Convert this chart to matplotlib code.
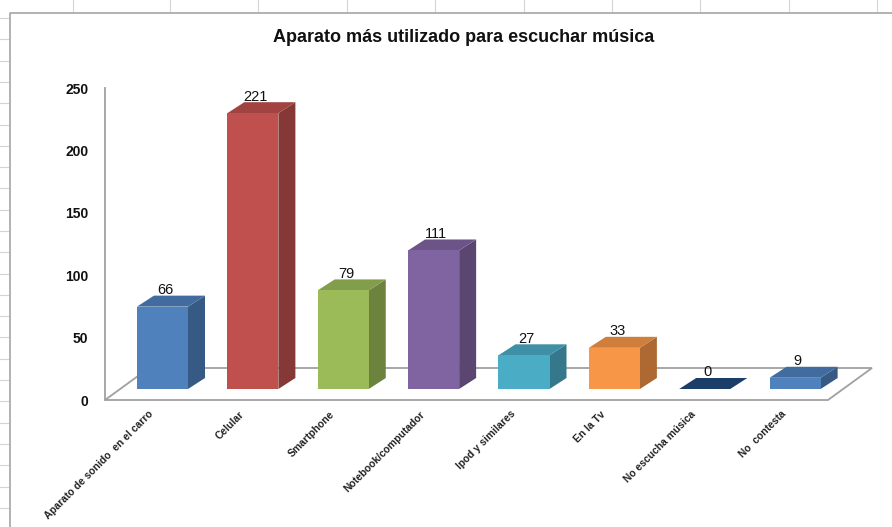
import matplotlib
matplotlib.use("Agg")
import matplotlib.pyplot as plt
import matplotlib.transforms as mtransforms
from matplotlib.patches import Polygon, Rectangle
from matplotlib.lines import Line2D
import numpy as np

plt.rcParams['font.family'] = ['Liberation Sans', 'DejaVu Sans']

# ---- data ----
categories = ["Aparato de sonido  en el carro", "Celular", "Smartphone",
              "Notebook/computador", "Ipod y similares", "En la Tv",
              "No escucha música", "No  contesta"]
values = [66, 221, 79, 111, 27, 33, 0, 9]
colors = ["#4F81BD", "#C0504D", "#9BBB59", "#8064A2", "#4BACC6",
          "#F79646", "#1F497D", "#4F81BD"]
yticks = [0, 50, 100, 150, 200, 250]
title = "Aparato más utilizado para escuchar música"

W, H, DPI = 892, 527, 100
fig = plt.figure(figsize=(W / DPI, H / DPI), dpi=DPI)
fig.patch.set_facecolor("white")
FT = fig.transFigure

# spreadsheet grid peeking around the chart frame
for xc in [73, 170, 258, 347, 435, 524, 612, 700, 789, 877]:
    fig.add_artist(Line2D([xc / W, xc / W], [1, 1 - 12 / H],
                          color="#d4d4d4", lw=0.8, transform=FT))
for yr in np.arange(18, 527, 21.3):
    fig.add_artist(Line2D([0, 9 / W], [1 - yr / H, 1 - yr / H],
                          color="#d4d4d4", lw=0.8, transform=FT))
# chart frame
fig.add_artist(Line2D([10 / W, 10 / W, 1], [0, 1 - 13 / H, 1 - 13 / H],
                      color="#a6a6a6", lw=1.2, transform=FT))

# axes = front plane of the floor
x_left, x_right = 105, 828
y_zero, y_top = 400, 88
ax = fig.add_axes([x_left / W, (H - y_zero) / H,
                   (x_right - x_left) / W, (y_zero - y_top) / H])
ax.set_xlim(-0.47, len(values) - 1 + 0.53)
ax.set_ylim(0, 250)
ax.patch.set_alpha(0)
for s in ["top", "right", "bottom"]:
    ax.spines[s].set_visible(False)
ax.spines["left"].set_color("#a0a0a0")
ax.spines["left"].set_linewidth(1.3)
ax.spines["left"].set_zorder(0.5)

DISP = mtransforms.IdentityTransform()

def px(dx, dy):
    """pixel offset as a display-space translation"""
    return mtransforms.ScaledTranslation(dx / DPI, dy / DPI, fig.dpi_scale_trans)

# floor: front edge on the axis, back edge pushed into depth
fdx, fdy = 44, 32
x0, x1 = ax.get_xlim()
fl = ax.transData.transform((x0, 0))
fr = ax.transData.transform((x1, 0))
off_f = np.array([fdx, fdy])
ax.add_patch(Polygon([fl, fr, fr + off_f, fl + off_f], closed=True,
                     transform=DISP, facecolor="white", edgecolor="#a0a0a0",
                     lw=1.3, zorder=1, clip_on=False))

# bars: front face + top + side, set into the floor
bdx, bdy = 15, 11     # bar front plane offset from floor front
ddx, ddy = 17, 11     # bar depth
bw = 0.565

def shade(c, f):
    r, g, b = matplotlib.colors.to_rgb(c)
    return (r * f, g * f, b * f)

bar_tr = ax.transData + px(bdx, bdy)
off_b = np.array([ddx, ddy])
for i, (v, c) in enumerate(zip(values, colors)):
    xl, xr = i - bw / 2, i + bw / 2
    fr_b = bar_tr.transform((xr, 0))
    fr_t = bar_tr.transform((xr, v))
    fl_t = bar_tr.transform((xl, v))
    side_pts = [fr_b, fr_t, fr_t + off_b, fr_b + off_b]
    top_pts = [fl_t, fr_t, fr_t + off_b, fl_t + off_b]
    for pts, col, z in [(side_pts, shade(c, 0.70), 3), (top_pts, shade(c, 0.84), 4)]:
        ax.add_patch(Polygon(pts, closed=True, transform=DISP, facecolor=col,
                             edgecolor="none", zorder=z, clip_on=False))
    if v > 0:
        ax.add_patch(Rectangle((xl, 0), bw, v, transform=bar_tr, facecolor=c,
                               edgecolor="none", clip_on=False, zorder=5))
    ax.annotate(str(v), xy=(i, v), xycoords=bar_tr,
                xytext=(2, ddy * 0.72 - 1), textcoords="offset points",
                ha="center", va="bottom", fontsize=10.5, color="#111111",
                zorder=6, annotation_clip=False)

# y axis
ax.set_yticks(yticks)
ax.set_yticklabels([str(t) for t in yticks], fontsize=10, fontweight="bold",
                   color="#111111")
ax.tick_params(axis="y", length=0, pad=12)

# category labels
ax.set_xticks(range(len(categories)))
ax.set_xticklabels(categories, rotation=45, ha="right",
                   rotation_mode="anchor", fontsize=7.4, fontweight="bold",
                   color="#222222")
ax.tick_params(axis="x", length=0, pad=0)
for lab in ax.get_xticklabels():
    lab.set_transform(lab.get_transform() + px(1, -9))

fig.text(464 / W, 1 - 38 / H, title, ha="center", va="center",
         fontsize=13, fontweight="bold", color="#111111")

fig.savefig("out.png", dpi=DPI, facecolor="white")
